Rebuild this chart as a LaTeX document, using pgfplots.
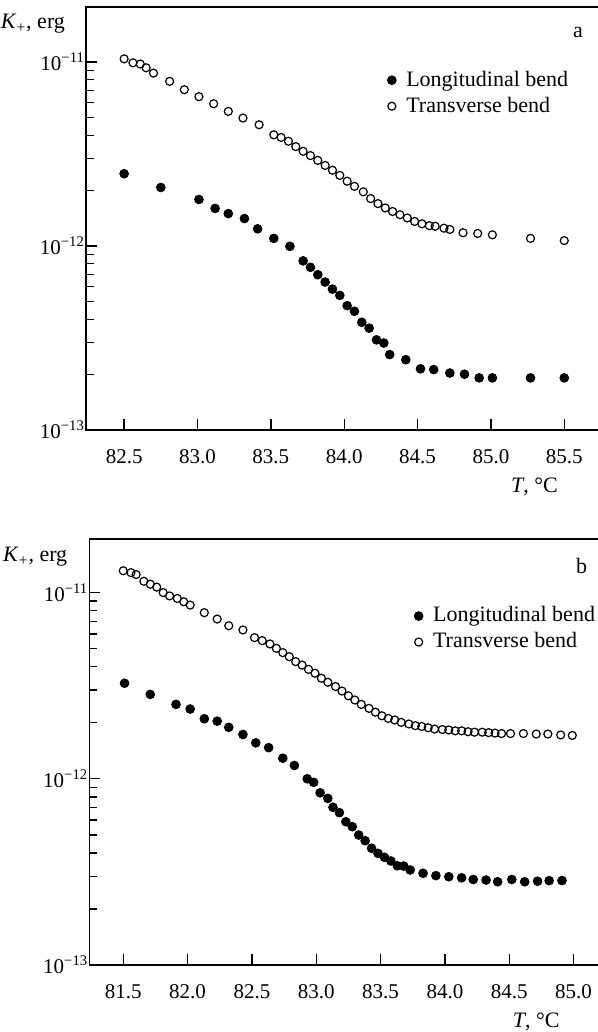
\documentclass[border=0pt]{standalone}
\usepackage{fontspec}
\setmainfont{Liberation Serif}
\usepackage{pgfplots}
\usepackage{pgfplotstable}
\pgfplotsset{compat=1.18}

\pgfplotstableread{
T K
82.50 1.04e-11
82.56 0.99e-11
82.61 0.975e-11
82.65 0.93e-11
82.70 0.87e-11
82.81 7.85e-12
82.91 7.07e-12
83.01 6.48e-12
83.11 5.93e-12
83.21 5.39e-12
83.31 4.96e-12
83.42 4.56e-12
83.52 4.02e-12
83.57 3.89e-12
83.62 3.71e-12
83.67 3.47e-12
83.72 3.27e-12
83.77 3.10e-12
83.82 2.92e-12
83.87 2.74e-12
83.92 2.58e-12
83.97 2.42e-12
84.02 2.25e-12
84.07 2.11e-12
84.13 1.97e-12
84.18 1.81e-12
84.23 1.70e-12
84.28 1.61e-12
84.33 1.54e-12
84.38 1.48e-12
84.43 1.42e-12
84.48 1.36e-12
84.53 1.32e-12
84.58 1.29e-12
84.62 1.28e-12
84.68 1.25e-12
84.72 1.23e-12
84.81 1.18e-12
84.91 1.17e-12
85.01 1.15e-12
85.27 1.10e-12
85.50 1.07e-12
}\transA

\pgfplotstableread{
T K
82.50 2.47e-12
82.75 2.08e-12
83.01 1.79e-12
83.12 1.60e-12
83.21 1.50e-12
83.32 1.41e-12
83.41 1.24e-12
83.52 1.10e-12
83.63 0.996e-12
83.72 8.3e-13
83.77 7.66e-13
83.82 6.98e-13
83.87 6.37e-13
83.92 5.83e-13
83.97 5.39e-13
84.02 4.74e-13
84.07 4.42e-13
84.12 3.85e-13
84.17 3.58e-13
84.22 3.09e-13
84.27 2.97e-13
84.31 2.57e-13
84.42 2.41e-13
84.52 2.15e-13
84.61 2.13e-13
84.72 2.04e-13
84.82 2.01e-13
84.92 1.92e-13
85.01 1.92e-13
85.27 1.92e-13
85.50 1.92e-13
}\longA

\pgfplotstableread{
T K
81.50 1.31e-11
81.56 1.28e-11
81.60 1.25e-11
81.66 1.15e-11
81.71 1.11e-11
81.76 1.07e-11
81.81 1.00e-11
81.86 9.6e-12
81.92 9.3e-12
81.97 8.93e-12
82.02 8.57e-12
82.13 7.80e-12
82.23 7.21e-12
82.32 6.64e-12
82.43 6.30e-12
82.52 5.73e-12
82.58 5.52e-12
82.64 5.30e-12
82.69 5.02e-12
82.74 4.76e-12
82.79 4.53e-12
82.84 4.26e-12
82.89 4.08e-12
82.94 3.87e-12
82.99 3.69e-12
83.04 3.47e-12
83.09 3.30e-12
83.15 3.13e-12
83.20 2.96e-12
83.25 2.79e-12
83.30 2.65e-12
83.35 2.51e-12
83.41 2.39e-12
83.46 2.28e-12
83.51 2.18e-12
83.56 2.11e-12
83.61 2.07e-12
83.66 2.01e-12
83.72 1.97e-12
83.77 1.93e-12
83.82 1.91e-12
83.87 1.88e-12
83.92 1.85e-12
83.98 1.84e-12
84.03 1.83e-12
84.08 1.81e-12
84.13 1.81e-12
84.18 1.79e-12
84.23 1.78e-12
84.29 1.78e-12
84.34 1.77e-12
84.39 1.76e-12
84.44 1.75e-12
84.51 1.75e-12
84.61 1.75e-12
84.71 1.74e-12
84.80 1.74e-12
84.90 1.72e-12
84.99 1.71e-12
}\transB

\pgfplotstableread{
T K
81.51 3.26e-12
81.71 2.84e-12
81.91 2.51e-12
82.02 2.37e-12
82.13 2.10e-12
82.23 2.04e-12
82.32 1.89e-12
82.43 1.73e-12
82.53 1.56e-12
82.63 1.47e-12
82.74 1.29e-12
82.83 1.18e-12
82.93 1.00e-12
82.98 9.57e-13
83.03 8.41e-13
83.09 7.85e-13
83.13 7.03e-13
83.18 6.58e-13
83.23 5.88e-13
83.28 5.53e-13
83.33 4.99e-13
83.38 4.65e-13
83.43 4.24e-13
83.48 3.98e-13
83.53 3.79e-13
83.58 3.62e-13
83.63 3.41e-13
83.68 3.40e-13
83.73 3.24e-13
83.83 3.11e-13
83.93 3.02e-13
84.03 2.98e-13
84.13 2.94e-13
84.22 2.88e-13
84.32 2.86e-13
84.41 2.80e-13
84.52 2.88e-13
84.62 2.80e-13
84.72 2.82e-13
84.81 2.84e-13
84.91 2.84e-13
}\longB

\newcommand{\tf}{\fontsize{10.5}{12}\selectfont}
\newcommand{\lf}{\fontsize{11}{13}\selectfont}

\begin{document}
\begin{tikzpicture}[x=1pt,y=1pt]
\path[use as bounding box] (0,0) rectangle (299,516);
\begin{axis}[
  ymode=log, scale only axis, clip=false,
  axis line style={draw=none},
  tick align=inside, xtick pos=lower, ytick pos=left,
  major tick length=5.5pt, minor tick length=4pt,
  every tick/.style={black, line width=0.65pt},
  ytick={1e-13,1e-12,1e-11},
  yticklabels={\textrm{10\textsuperscript{−13}},\textrm{10\textsuperscript{−12}},\textrm{10\textsuperscript{−11}}},
  yticklabel style={font=\tf, xshift=3pt},
  xticklabel style={font=\tf, yshift=-6pt},
  legend style={draw=none, fill=none, inner sep=0pt, row sep=2.8pt, column sep=5pt, font=\lf,
    nodes={inner sep=0pt, text height=8pt, text depth=2.2pt},
    at={(axis description cs:0.588,0.852)}, anchor=north west},
  legend cell align=left,
  ylabel={\textit{K}\textsubscript{+}, erg},
  ylabel style={font=\lf, at={(axis description cs:0,1)}, rotate=-90, anchor=east, xshift=-7pt, yshift=-8.5pt},
  xlabel={\textit{T}, °C},
  xlabel style={font=\lf, at={(axis description cs:0.9355,0)}, anchor=east, yshift=-28.5pt},
  at={(43pt,301pt)}, anchor=south west, width=256pt, height=211.5pt,
  xmin=82.24, xmax=85.73, ymin=1e-13, ymax=1.99e-11,
  xtick={82.5,83.0,83.5,84.0,84.5,85.0,85.5},
  xticklabels={\textrm{82.5},\textrm{83.0},\textrm{83.5},\textrm{84.0},\textrm{84.5},\textrm{85.0},\textrm{85.5}},
]
\addplot[only marks, mark=*, mark size=2.2pt, mark options={fill=black, draw=black}] table[x=T,y=K] {\longA};
\addlegendentry{Longitudinal bend}
\addplot[only marks, mark=o, mark size=2pt, mark options={line width=0.6pt, draw=black}] table[x=T,y=K] {\transA};
\addlegendentry{Transverse bend}
\draw[line width=0.65pt] (rel axis cs:1,1) -- (rel axis cs:0,1) -- (rel axis cs:0,0) -- (rel axis cs:1,0);
\node[font=\lf] at (rel axis cs:0.961,0.941) {a};
\end{axis}
\begin{axis}[
  ymode=log, scale only axis, clip=false,
  axis line style={draw=none},
  tick align=inside, xtick pos=lower, ytick pos=left,
  major tick length=5.5pt, minor tick length=4pt,
  every tick/.style={black, line width=0.65pt},
  ytick={1e-13,1e-12,1e-11},
  yticklabels={\textrm{10\textsuperscript{−13}},\textrm{10\textsuperscript{−12}},\textrm{10\textsuperscript{−11}}},
  yticklabel style={font=\tf, xshift=3pt},
  xticklabel style={font=\tf, yshift=-6pt},
  legend style={draw=none, fill=none, inner sep=0pt, row sep=2.8pt, column sep=5pt, font=\lf,
    nodes={inner sep=0pt, text height=8pt, text depth=2.2pt},
    at={(axis description cs:0.638,0.844)}, anchor=north west},
  legend cell align=left,
  ylabel={\textit{K}\textsubscript{+}, erg},
  ylabel style={font=\lf, at={(axis description cs:0,1)}, rotate=-90, anchor=east, xshift=-7.5pt, yshift=-9pt},
  xlabel={\textit{T}, °C},
  xlabel style={font=\lf, at={(axis description cs:0.9385,0)}, anchor=east, yshift=-28.5pt},
  at={(44.65pt,33.5pt)}, anchor=south west, width=254.35pt, height=213pt,
  xmin=81.236, xmax=85.19, ymin=1e-13, ymax=1.94e-11,
  xtick={81.5,82.0,82.5,83.0,83.5,84.0,84.5,85.0},
  xticklabels={\textrm{81.5},\textrm{82.0},\textrm{82.5},\textrm{83.0},\textrm{83.5},\textrm{84.0},\textrm{84.5},\textrm{85.0}},
]
\addplot[only marks, mark=*, mark size=2.2pt, mark options={fill=black, draw=black}] table[x=T,y=K] {\longB};
\addlegendentry{Longitudinal bend}
\addplot[only marks, mark=o, mark size=2pt, mark options={line width=0.6pt, draw=black}] table[x=T,y=K] {\transB};
\addlegendentry{Transverse bend}
\draw[line width=0.65pt] (rel axis cs:1,1) -- (rel axis cs:0,1) -- (rel axis cs:0,0) -- (rel axis cs:1,0);
\node[font=\lf] at (rel axis cs:0.968,0.937) {b};
\end{axis}
\end{tikzpicture}
\end{document}
